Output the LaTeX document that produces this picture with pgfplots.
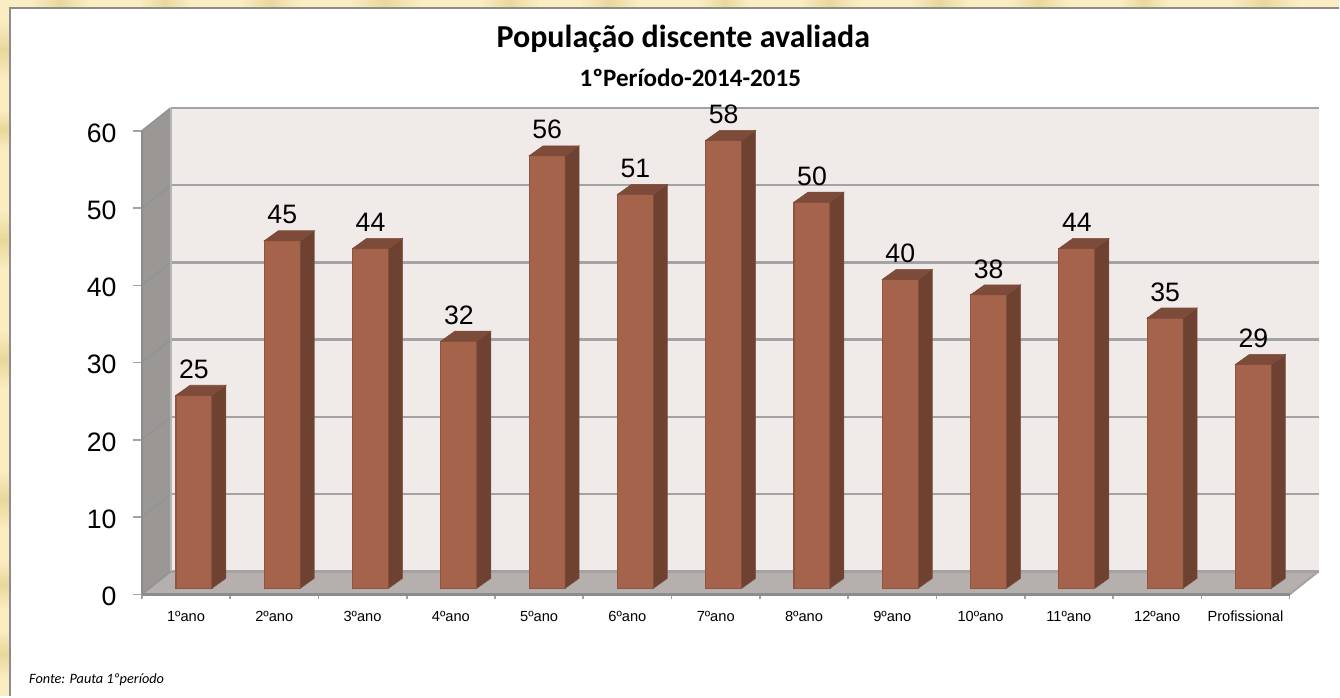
\documentclass[border=0pt]{standalone}
\usepackage{pgfplots}
\pgfplotsset{compat=1.18}
\usepackage{fontspec}
\setmainfont{Liberation Sans}
\newfontfamily\carlito{Carlito}
\definecolor{cream}{HTML}{FAEDC2}
\definecolor{creamd}{HTML}{EAD79C}
\definecolor{panelb}{HTML}{8C8C8C}
\definecolor{wall}{HTML}{F0EBE8}
\definecolor{lwall}{HTML}{9B9795}
\definecolor{floorc}{HTML}{B5B0AE}
\definecolor{gridc}{HTML}{A3A3A3}
\definecolor{barf}{HTML}{A5634B}
\definecolor{bare}{HTML}{8F5540}
\definecolor{bars}{HTML}{6E4131}
\definecolor{bart}{HTML}{7D4B39}
\pgfplotstableread{
x v
0.5 25
1.5 45
2.5 44
3.5 32
4.5 56
5.5 51
6.5 58
7.5 50
8.5 40
9.5 38
10.5 44
11.5 35
12.5 29
}\bardata
\begin{document}
\begin{tikzpicture}
\begin{scope}[x=0.75pt,y=-0.75pt]
% page and panel
\fill[cream] (0,0) rectangle (1340,697);
\foreach \a/\b in {20/80,110/150,210/270,330/390,470/530,560/610,630/680}{
  \shade[top color=cream,bottom color=creamd] (0,\a) rectangle (9,{(\a+\b)/2});
  \shade[bottom color=cream,top color=creamd] (0,{(\a+\b)/2}) rectangle (9,\b);}
\foreach \a/\b in {30/90,140/190,240/300,350/420,480/540,580/640,700/750,800/860,910/970,1010/1070,1120/1170,1230/1300}{
  \shade[left color=cream,right color=creamd] (\a,0) rectangle ({(\a+\b)/2},7);
  \shade[right color=cream,left color=creamd] ({(\a+\b)/2},0) rectangle (\b,7);}
\fill[white] (10,8) rectangle (1340,697);
\draw[panelb,line width=2.2pt] (10,697) -- (10,8) -- (1340,8);
% walls and floor
\fill[wall] (171,108) rectangle (1320,572);
\fill[lwall] (142,131) -- (171,108) -- (171,572) -- (142,595) -- cycle;
\fill[floorc] (142,595) -- (171,572) -- (1320,572) -- (1291,595) -- cycle;
\foreach \y in {108,185.3,262.7,340,417.3,494.7,572}{
  \draw[gridc,line width=1.9pt] (171,\y) -- (1320,\y);
  \draw[gray!85,line width=1.2pt] (142,\y+23) -- (171,\y);}
\draw[gridc!80!white,line width=1.2pt] (171,108) -- (171,572);
\draw[gridc,line width=1.5pt] (1291,595) -- (1320,572);
% titles
\node[font=\carlito\bfseries\fontsize{24}{28}\selectfont] at (684,39) {População discente avaliada};
\node[font=\carlito\bfseries\fontsize{18.8}{22}\selectfont] at (691,78) {1ºPeríodo-2014-2015};
\node[anchor=west,inner sep=0pt,font=\carlito\itshape\fontsize{10.7}{13}\selectfont] at (29,680) {Fonte: Pauta 1ºperíodo};
\end{scope}
\begin{axis}[
  at={(106.5pt,-446.25pt)},anchor=origin,
  scale only axis,width=861.75pt,height=348pt,
  xmin=0,xmax=13,ymin=0,ymax=60,clip=false,
  axis x line*=bottom,axis y line*=left,
  axis line style={panelb,line width=1.9pt,-},
  xtick={0.5,1.5,2.5,3.5,4.5,5.5,6.5,7.5,8.5,9.5,10.5,11.5,12.5},
  xticklabels={1ºano,2ºano,3ºano,4ºano,5ºano,6ºano,7ºano,8ºano,9ºano,10ºano,11ºano,12ºano,Profissional},
  minor xtick={0,1,2,3,4,5,6,7,8,9,10,11,12,13},
  ytick={0,10,20,30,40,50,60},
  tick align=outside,
  major tick length=6.5pt,minor tick length=3.8pt,
  major x tick style={draw=none},
  minor x tick style={draw=gridc,line width=1.2pt},
  y tick style={draw=gridc,line width=1.2pt},
  xticklabel style={font=\fontsize{11}{13}\selectfont,yshift=-2pt,text height=8pt,text depth=0pt},
  yticklabel style={font=\fontsize{20}{24}\selectfont,xshift=-9pt,yshift=-1.5pt},
  /pgf/number format/assume math mode=true,
]
\addplot[only marks,scatter,mark=*,mark size=0pt,
  visualization depends on={rawy \as \rawv},
  scatter/@pre marker code/.code={%
    \pgfmathsetmacro{\hh}{\rawv*5.8}%
    \fill[bars,draw=bars!90!white,line width=0.4pt] (19.5pt,4.5pt) -- (30pt,12pt) -- (30pt,12pt-\hh pt) -- (19.5pt,4.5pt-\hh pt) -- cycle;
    \fill[bart,draw=bart,line width=0.4pt] (-7.5pt,4.5pt) -- (19.5pt,4.5pt) -- (30pt,12pt) -- (3pt,12pt) -- cycle;
    \begin{scope}},
  scatter/@post marker code/.code={\end{scope}},
] table[x=x,y=v] {\bardata};
\addplot[ybar,bar width=27pt,bar shift=6pt,yshift=4.5pt,fill=barf,draw=bare,line width=0.9pt,
  nodes near coords,
  every node near coord/.style={anchor=center,xshift=6pt,yshift=19.5pt,black,font=\fontsize{20}{24}\selectfont},
  /pgf/number format/assume math mode=true,
] table[x=x,y=v] {\bardata};
\end{axis}
\end{tikzpicture}
\end{document}
